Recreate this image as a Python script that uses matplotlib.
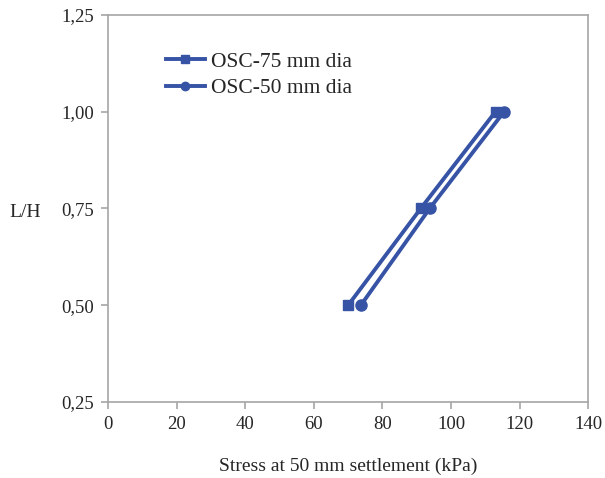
import matplotlib
matplotlib.use("Agg")
import matplotlib.pyplot as plt
from matplotlib.ticker import FuncFormatter

plt.rcParams['font.family'] = ['Liberation Serif', 'DejaVu Serif']

lh = [0.50, 0.75, 1.00]
stress_75 = [70.0, 91.2, 113.0]
stress_50 = [73.7, 93.8, 115.5]
x_ticks = [0, 20, 40, 60, 80, 100, 120, 140]
y_ticks = [0.25, 0.50, 0.75, 1.00, 1.25]

color = '#3653A5'

fig = plt.figure(figsize=(6.05, 4.78), dpi=100)
ax = fig.add_axes([0.179, 0.159, 0.793, 0.810])

ax.plot(stress_75, lh, color=color, lw=2.8, marker='s', ms=7.5,
        label='OSC-75 mm dia')
ax.plot(stress_50, lh, color=color, lw=2.8, marker='o', ms=8,
        label='OSC-50 mm dia')

ax.set_xlim(0, 140)
ax.set_ylim(0.25, 1.25)
ax.set_xticks(x_ticks)
ax.set_yticks(y_ticks)
ax.yaxis.set_major_formatter(FuncFormatter(lambda v, p: f"{v:.2f}".replace('.', ',')))

for s in ax.spines.values():
    s.set_color('#A6A6A6')
    s.set_linewidth(1.2)
ax.tick_params(axis='both', direction='out', length=5, width=1.2, color='#A6A6A6',
               labelsize=13.5, labelcolor='#262626', pad=5)

ax.set_xlabel('Stress at 50 mm settlement (kPa)', fontsize=14, color='#262626', labelpad=18)
ax.set_ylabel('L/H', fontsize=14, color='#262626', rotation=0, va='center', ha='center')
ax.yaxis.set_label_coords(-0.173, 0.49)

ax.legend(loc='upper left', bbox_to_anchor=(0.08, 0.955), frameon=False,
          fontsize=15.5, handlelength=1.8, handletextpad=0.3, labelspacing=0.3,
          markerscale=0.75, labelcolor='#262626')

fig.savefig('out.png', dpi=100)
